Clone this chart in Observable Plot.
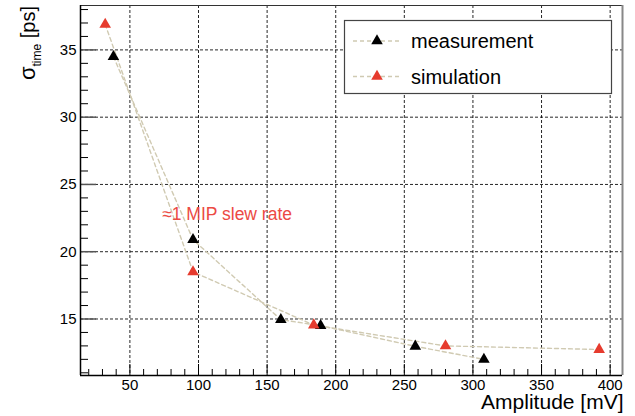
<!DOCTYPE html>
<html>
<head>
<meta charset="utf-8">
<script src="https://cdn.jsdelivr.net/npm/d3@7"></script>
<script src="https://cdn.jsdelivr.net/npm/@observablehq/plot@0.6"></script>
<style>
  html, body { margin: 0; padding: 0; background: #fff; }
  #chart { position: relative; width: 635px; height: 416px; }
</style>
</head>
<body>
<div id="chart"></div>
<script>
// ---- data ----
const measAmp   = [38, 96, 160, 189, 258, 308];
const measSigma = [34.5, 20.9, 14.95, 14.5, 12.97, 12.0];
const simAmp    = [32, 96, 184, 280, 392];
const simSigma  = [36.9, 18.5, 14.55, 13.0, 12.73];
const seriesNames = ["measurement", "simulation"];
const xMajor = [50, 100, 150, 200, 250, 300, 350, 400];
const xMinor = d3.range(20, 410, 10).filter(v => v % 50 !== 0);
const yMajor = [15, 20, 25, 30, 35];
const yMinor = d3.range(11, 39, 1).filter(v => v % 5 !== 0);
const xDomain = [14, 409];
const yDomain = [10.8, 38.3];
const annotation = ["≈1 MIP slew rate"];
const annotationAt = {amp: 73.5, sigma: 22.75};

const meas = measAmp.map((a, i) => ({amp: a, sigma: measSigma[i]}));
const sim  = simAmp.map((a, i) => ({amp: a, sigma: simSigma[i]}));

const RED = "#e63b2e";
const LINE = "#d0cab2";
const FONT = "'Liberation Sans', Arial, Helvetica, sans-serif";

const W = 635, H = 416, ML = 80, MR = 13, MT = 5, MB = 41;
const innerW = W - ML - MR, innerH = H - MT - MB;

const svg = Plot.plot({
  width: W, height: H,
  marginLeft: ML, marginRight: MR, marginTop: MT, marginBottom: MB,
  x: {domain: xDomain},
  y: {domain: yDomain},
  style: {fontFamily: FONT, fontSize: "15px", background: "#fff", color: "#000"},
  marks: [
    Plot.gridX(xMajor, {stroke: "#000", strokeOpacity: 0.85, strokeDasharray: "3,2", strokeWidth: 1}),
    Plot.gridY(yMajor, {stroke: "#000", strokeOpacity: 0.85, strokeDasharray: "3,2", strokeWidth: 1}),
    // inward ticks
    Plot.ruleX(xMinor, {x: d => d, insetTop: innerH - 6, stroke: "#000"}),
    Plot.ruleX(xMajor, {x: d => d, insetTop: innerH - 11, stroke: "#000"}),
    Plot.ruleY(yMinor, {y: d => d, insetRight: innerW - 8, stroke: "#000"}),
    Plot.ruleY(yMajor, {y: d => d, insetRight: innerW - 16, stroke: "#555", strokeWidth: 1.5}),
    // frame
    Plot.ruleY([yDomain[1]], {stroke: "#333", strokeWidth: 1}),
    Plot.ruleX([xDomain[1]], {stroke: "#888", strokeWidth: 2}),
    Plot.ruleY([yDomain[0]], {stroke: "#000", strokeWidth: 1.5}),
    Plot.ruleX([xDomain[0]], {stroke: "#000", strokeWidth: 1.5}),
    Plot.axisX(xMajor, {tickSize: 0, tickPadding: 4, fontSize: 15, label: null}),
    Plot.axisY(yMajor, {tickSize: 0, tickPadding: 4, fontSize: 15, label: null}),
    // series lines
    Plot.line(meas, {x: "amp", y: "sigma", stroke: LINE, strokeWidth: 1.4, strokeDasharray: "4,3"}),
    Plot.line(sim,  {x: "amp", y: "sigma", stroke: LINE, strokeWidth: 1.4, strokeDasharray: "4,3"}),
    // markers
    Plot.dot(meas, {x: "amp", y: "sigma", symbol: "triangle", r: 4.3, fill: "#000", stroke: "none"}),
    Plot.dot(sim,  {x: "amp", y: "sigma", symbol: "triangle", r: 4.3, fill: RED, stroke: "none"}),
    // annotation
    Plot.text(annotation, {x: () => annotationAt.amp, y: () => annotationAt.sigma, text: d => d,
      textAnchor: "start", fill: "#ec4a44", fontSize: 17.5}),
    // x axis title
    Plot.text(["Amplitude [mV]"], {frameAnchor: "bottom-right", text: d => d, textAnchor: "end",
      lineAnchor: "middle", dy: 26.5, dx: 1, fontSize: 21, fill: "#000"})
  ]
});

const s = d3.select(svg);

// y axis title with subscript
const yl = s.append("text")
  .attr("transform", `translate(35,${MT + 1}) rotate(-90)`)
  .attr("text-anchor", "end")
  .attr("font-family", FONT)
  .attr("fill", "#000");
yl.append("tspan").attr("font-size", 22).text("σ");
yl.append("tspan").attr("font-size", 12).attr("dy", 6).text("time");
yl.append("tspan").attr("font-size", 20).attr("dy", -6).text(" [ps]");

// legend
const lg = s.append("g").attr("font-family", FONT).attr("text-anchor", "start");
lg.append("rect").attr("x", 344.5).attr("y", 20.5).attr("width", 267).attr("height", 73)
  .attr("fill", "#fff").attr("stroke", "#444").attr("stroke-width", 1.2);
const colors = ["#000", RED];
seriesNames.forEach((name, i) => {
  const cy = 41 + i * 35.5;
  lg.append("line").attr("x1", 353).attr("x2", 401).attr("y1", cy).attr("y2", cy)
    .attr("stroke", LINE).attr("stroke-width", 1.3).attr("stroke-dasharray", "4,3");
  lg.append("path").attr("d", d3.symbol(d3.symbolTriangle, Math.PI * 4.3 * 4.3)())
    .attr("transform", `translate(377,${cy})`).attr("fill", colors[i]);
  lg.append("text").attr("x", 411).attr("y", cy).attr("dy", "0.35em")
    .attr("text-anchor", "start")
    .attr("font-size", 20).attr("fill", "#000").text(name);
});

document.getElementById("chart").appendChild(svg);
</script>
</body>
</html>
